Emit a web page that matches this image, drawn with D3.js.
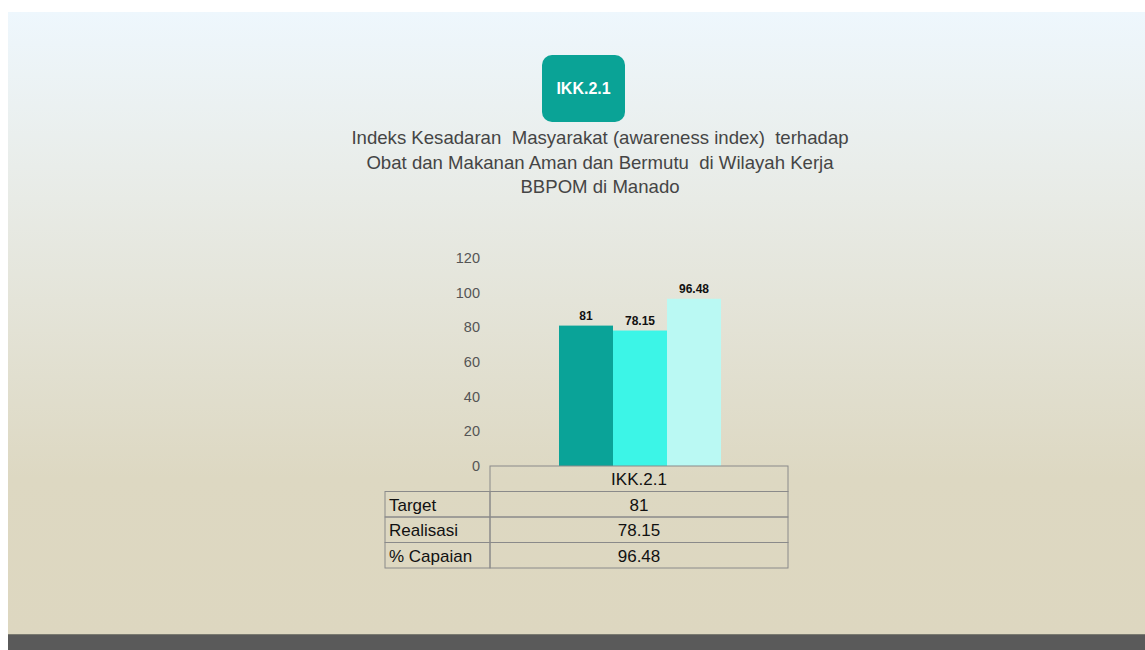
<!DOCTYPE html>
<html><head><meta charset="utf-8">
<script src="https://cdn.jsdelivr.net/npm/d3@7"></script>
<style>html,body{margin:0;padding:0;background:#fff;}svg{display:block;}</style>
</head><body>
<script>
const series = ["Target", "Realisasi", "% Capaian"];
const values = [81, 78.15, 96.48];
const valueLabels = ["81", "78.15", "96.48"];
const category = "IKK.2.1";
const yTicks = [0, 20, 40, 60, 80, 100, 120];
const colors = ["#0aa398", "#3cf5e7", "#baf9f3"];
const titleLines = ["Indeks Kesadaran  Masyarakat (awareness index)  terhadap", "Obat dan Makanan Aman dan Bermutu  di Wilayah Kerja", "BBPOM di Manado"];

(function () {
const W = 1145, H = 650;
const svg = d3.select("body").append("svg").attr("width", W).attr("height", H);
const defs = svg.append("defs");
const g = defs.append("linearGradient").attr("id", "bg").attr("x1", 0).attr("y1", 0).attr("x2", 0).attr("y2", 1);
g.append("stop").attr("offset", "0%").attr("stop-color", "#eef7fd");
g.append("stop").attr("offset", "30%").attr("stop-color", "#e8ebe6");
g.append("stop").attr("offset", "75%").attr("stop-color", "#ddd8c2");
g.append("stop").attr("offset", "100%").attr("stop-color", "#ddd7c0");

svg.append("rect").attr("x", 8).attr("y", 12).attr("width", W - 8).attr("height", 622).attr("fill", "url(#bg)");
svg.append("rect").attr("x", 8).attr("y", 634).attr("width", W - 8).attr("height", 16).attr("fill", "#5a5a5a");
svg.append("rect").attr("x", 8).attr("y", 634).attr("width", W - 8).attr("height", 1).attr("fill", "#7a7a70");

// badge
svg.append("rect").attr("x", 542).attr("y", 55).attr("width", 83).attr("height", 67).attr("rx", 10).attr("fill", "#0aa396");
svg.append("text").attr("x", 583.5).attr("y", 94).attr("text-anchor", "middle")
  .attr("font-family", "Liberation Sans, Arial, sans-serif").attr("font-weight", "bold").attr("font-size", 16)
  .attr("fill", "#fff").text(category);

// title
svg.append("g").selectAll("text").data(titleLines).join("text")
  .attr("x", 600).attr("y", (d, i) => 144 + i * 24.5).attr("text-anchor", "middle")
  .attr("font-family", "Liberation Sans, Arial, sans-serif").attr("font-size", 18.6).attr("fill", "#454545")
  .style("white-space", "pre").text(d => d);

// scales
const y = d3.scaleLinear().domain([0, 120]).range([466, 258]);
const xOuter = d3.scaleBand().domain([category]).range([490, 788]);
const xInner = d3.scaleBand().domain(series).range([559, 721]).padding(0);

const axis = svg.append("g").attr("transform", "translate(480,0)")
  .call(d3.axisLeft(y).tickValues(yTicks).tickSize(0).tickPadding(0));
axis.select(".domain").remove();
axis.selectAll("text").attr("font-family", "Liberation Sans, Arial, sans-serif").attr("font-size", 14.5)
  .attr("fill", "#555").attr("dy", "0.32em");

svg.append("g").selectAll("rect").data(values).join("rect")
  .attr("x", (d, i) => xInner(series[i])).attr("width", xInner.bandwidth())
  .attr("y", d => y(d)).attr("height", d => y(0) - y(d))
  .attr("fill", (d, i) => colors[i]);

svg.append("g").selectAll("text").data(values).join("text")
  .attr("x", (d, i) => xInner(series[i]) + xInner.bandwidth() / 2)
  .attr("y", d => y(d) - 6).attr("text-anchor", "middle")
  .attr("font-family", "Liberation Sans Narrow, Arial Narrow, sans-serif").attr("font-weight", "bold")
  .attr("font-size", 12).attr("fill", "#111").text((d, i) => valueLabels[i]);

// data table
const rowH = 25.5;
const tbl = svg.append("g").attr("font-family", "Liberation Sans, Arial, sans-serif").attr("font-size", 17).attr("fill", "#111");
const stroke = "#8a8a8a";
const x0 = 385, x1 = xOuter(category), x2 = xOuter(category) + xOuter.bandwidth();
const tTop = y(0);
tbl.append("rect").attr("x", x1).attr("y", tTop).attr("width", x2 - x1).attr("height", rowH)
  .attr("fill", "none").attr("stroke", stroke);
tbl.append("text").attr("x", (x1 + x2) / 2).attr("y", tTop + 19).attr("text-anchor", "middle").text(category);
series.forEach((s, i) => {
  const ry = tTop + rowH * (i + 1);
  tbl.append("rect").attr("x", x0).attr("y", ry).attr("width", x1 - x0).attr("height", rowH)
    .attr("fill", "none").attr("stroke", stroke);
  tbl.append("rect").attr("x", x1).attr("y", ry).attr("width", x2 - x1).attr("height", rowH)
    .attr("fill", "none").attr("stroke", stroke);
  tbl.append("text").attr("x", x0 + 4).attr("y", ry + 19).text(s);
  tbl.append("text").attr("x", (x1 + x2) / 2).attr("y", ry + 19).attr("text-anchor", "middle").text(valueLabels[i]);
});
})();
</script>
</body></html>
